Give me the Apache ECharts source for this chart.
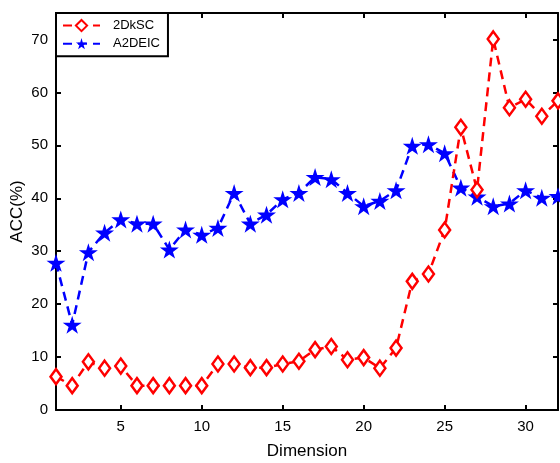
<!DOCTYPE html>
<html lang="en">
<head>
    <meta charset="utf-8">
    <title>ACC vs Dimension</title>
    <script src="https://cdn.jsdelivr.net/npm/echarts@6/dist/echarts.min.js"></script>
    <style>
        body { margin: 0; background: #fff; }
        #main { width: 560px; height: 463px; }
    </style>
</head>
<body>
<div id="main"></div>
<script>
    // data
    var dims = [1,2,3,4,5,6,7,8,9,10,11,12,13,14,15,16,17,18,19,20,21,22,23,24,25,26,27,28,29,30,31,32];
    var acc2DkSC = [6.3,4.6,9.1,7.9,8.3,4.6,4.6,4.6,4.6,4.6,8.7,8.7,8.0,8.0,8.7,9.2,11.4,12.0,9.5,9.9,7.9,11.7,24.3,25.7,34.0,53.4,41.6,70.1,57.1,58.7,55.5,58.4];
    var accA2DEIC = [27.8,16.1,29.8,33.5,36.0,35.2,35.2,30.3,34.1,33.1,34.4,41.0,35.2,36.9,39.8,41.0,44.0,43.6,41.0,38.5,39.5,41.5,49.9,50.2,48.5,42.0,40.3,38.5,39.0,41.5,40.1,40.4];
    var xTicks = [5,10,15,20,25,30];
    var yTicks = [0,10,20,30,40,50,60,70];

    function pairs(ys) {
        return dims.map(function (d, i) { return [d, ys[i]]; });
    }

    var star = 'path://M50,0 L61,35 L98,35 L68,57 L79,91 L50,70 L21,91 L32,57 L2,35 L39,35 Z';
    var font = 'Liberation Sans, Arial, sans-serif';

    var frameLine = { show: true, onZero: false, lineStyle: { color: '#000', width: 2 } };
    var tickIn = { show: true, inside: true, length: 5, lineStyle: { color: '#000', width: 2 } };

    var chart = echarts.init(document.getElementById('main'));
    var option = {
        animation: false,
        grid: { left: 56, right: 2, top: 13, bottom: 53, containLabel: false, outerBoundsMode: 'none' },
        legend: {
            left: 56, top: 13,
            orient: 'vertical',
            backgroundColor: '#fff',
            borderColor: '#000',
            borderWidth: 2,
            borderRadius: 0,
            padding: [6, 8, 6, 6],
            itemGap: 5,
            itemWidth: 37,
            itemHeight: 14,
            textStyle: { fontFamily: font, fontSize: 13, color: '#000', padding: [0, 0, 0, 8] },
            data: ['2DkSC', 'A2DEIC']
        },
        xAxis: [{
            type: 'value', min: 1, max: 32,
            name: 'Dimension', nameLocation: 'middle', nameGap: 33,
            nameTextStyle: { fontFamily: font, fontSize: 17, color: '#000' },
            axisLine: frameLine,
            axisTick: Object.assign({ customValues: xTicks }, tickIn),
            axisLabel: { customValues: xTicks, fontFamily: font, fontSize: 15, color: '#000', margin: 9 },
            splitLine: { show: false }
        }, {
            type: 'value', min: 1, max: 32, position: 'top',
            axisLine: frameLine,
            axisTick: Object.assign({ customValues: xTicks }, tickIn),
            axisLabel: { show: false },
            splitLine: { show: false }
        }],
        yAxis: [{
            type: 'value', min: 0, max: 75,
            name: 'ACC(%)', nameLocation: 'middle', nameGap: 30, nameMoveOverlap: false,
            nameTextStyle: { fontFamily: font, fontSize: 17, color: '#000' },
            axisLine: frameLine,
            axisTick: Object.assign({ customValues: yTicks }, tickIn),
            axisLabel: { customValues: yTicks, fontFamily: font, fontSize: 15, color: '#000', margin: 8 },
            splitLine: { show: false }
        }, {
            type: 'value', min: 0, max: 75, position: 'right',
            axisLine: frameLine,
            axisTick: Object.assign({ customValues: yTicks }, tickIn),
            axisLabel: { show: false },
            splitLine: { show: false }
        }],
        series: [{
            name: '2DkSC',
            type: 'line',
            data: pairs(acc2DkSC),
            symbol: 'diamond',
            symbolSize: [11, 15],
            itemStyle: { color: '#fff', borderColor: '#ff0000', borderWidth: 2.5 },
            lineStyle: { color: '#ff0000', width: 2.5, type: [9, 6] },
            z: 3
        }, {
            name: 'A2DEIC',
            type: 'line',
            data: pairs(accA2DEIC),
            symbol: star,
            symbolSize: [19, 18],
            itemStyle: { color: '#0000ff' },
            lineStyle: { color: '#0000ff', width: 2.5, type: [9, 6] },
            z: 2
        }]
    };
    chart.setOption(option);
    window.onresize = chart.resize;
</script>
</body>
</html>
